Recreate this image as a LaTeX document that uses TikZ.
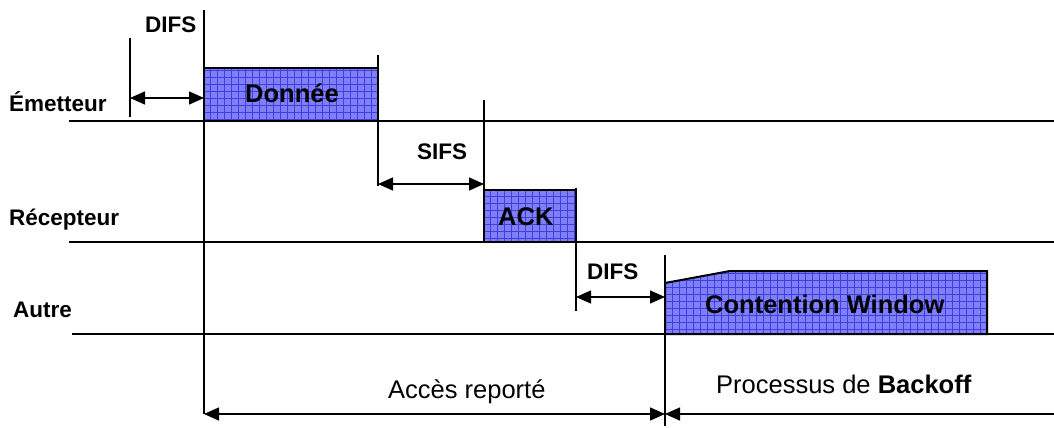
\documentclass[tikz,border=0pt]{standalone}
\usepackage{fontspec}
\setmainfont{Liberation Sans}
\usetikzlibrary{arrows.meta}
\definecolor{framefill}{RGB}{128,128,244}
\definecolor{framegrid}{RGB}{62,62,232}
\tikzset{
  lbl/.style={inner sep=0pt, anchor=base west, font=\fontsize{22.5}{27}\selectfont\bfseries},
  boxlbl/.style={inner sep=0pt, anchor=base west, font=\fontsize{25.5}{30}\selectfont\bfseries},
  spanlbl/.style={inner sep=0pt, anchor=base west, font=\fontsize{25.5}{30}\selectfont},
  axis/.style={line width=2pt},
  tick/.style={line width=1.5pt},
  gap/.style={line width=1.5pt, {Triangle[length=15pt,width=13pt]}-{Triangle[length=15pt,width=13pt]}},
  leftgap/.style={line width=1.5pt, {Triangle[length=15pt,width=13pt]}-},
  frameedge/.style={line width=2pt, line join=miter},
}
\newcommand{\framefill}[1]{%
  \begin{scope}
    \clip #1;
    \fill[framefill] (0,0) rectangle (1054,428);
    \draw[framegrid, line width=0.7pt, step=7pt] (0pt,0pt) grid (1054pt,-428pt);
  \end{scope}
  \draw[frameedge] #1;}
\begin{document}
\begin{tikzpicture}[x=1pt,y=-1pt]
  \useasboundingbox (0,0) rectangle (1054,428);

  % station time lines
  \coordinate (eL) at (69,121);  \coordinate (eR) at (1054,121);
  \coordinate (rL) at (69,242);  \coordinate (rR) at (1054,242);
  \coordinate (aL) at (72,334);  \coordinate (aR) at (1054,334);
  \draw[axis] (eL) -- (eR);
  \draw[axis] (rL) -- (rR);
  \draw[axis] (aL) -- (aR);

  % frames
  \framefill{(204,121) -- (204,68) -- (378,68) -- (378,121) -- cycle}
  \framefill{(484,242) -- (484,190) -- (576,190) -- (576,242) -- cycle}
  \framefill{(665,334) -- (665,283) -- (730,271) -- (987,271) -- (987,334) -- cycle}

  % vertical markers
  \coordinate (t1a) at (130,38);  \coordinate (t1b) at (130,117);
  \coordinate (t2a) at (204,10);  \coordinate (t2b) at (204,414);
  \coordinate (t3a) at (378,55);  \coordinate (t3b) at (378,186);
  \coordinate (t4a) at (484,100); \coordinate (t4b) at (484,242);
  \coordinate (t5a) at (576,188); \coordinate (t5b) at (576,311);
  \coordinate (t6a) at (665,255); \coordinate (t6b) at (665,426);
  \foreach \t in {1,...,6} \draw[tick] (t\t a) -- (t\t b);

  % interframe spaces
  \coordinate (d1a) at (130,98);  \coordinate (d1b) at (204,98);
  \coordinate (s1a) at (378,184); \coordinate (s1b) at (484,184);
  \coordinate (d2a) at (576,297); \coordinate (d2b) at (665,297);
  \draw[gap] (d1a) -- (d1b);
  \draw[gap] (s1a) -- (s1b);
  \draw[gap] (d2a) -- (d2b);

  % deferred access and backoff spans
  \coordinate (b1a) at (204,414); \coordinate (b1b) at (665,414);
  \coordinate (b2a) at (665,414); \coordinate (b2b) at (1054,414);
  \draw[gap] (b1a) -- (b1b);
  \draw[leftgap] (b2a) -- (b2b);

  % labels
  \node[lbl] (difsA) at (145,33) {DIFS};
  \node[lbl] (em) at (9,111) {Émetteur};
  \node[boxlbl] (data) at (245,102) {Donnée};
  \node[lbl] (sifs) at (417,159) {SIFS};
  \node[lbl] (rec) at (9,225) {Récepteur};
  \node[boxlbl] (ack) at (498,225) {ACK};
  \node[lbl] (autre) at (13,317) {Autre};
  \node[lbl] (difsB) at (587,279) {DIFS};
  \node[boxlbl] (cw) at (705,313) {Contention Window};
  \node[spanlbl] (acces) at (388,398) {Accès reporté};
  \node[spanlbl] (bo) at (716,393) {Processus de \textbf{Backoff}};
\end{tikzpicture}
\end{document}
